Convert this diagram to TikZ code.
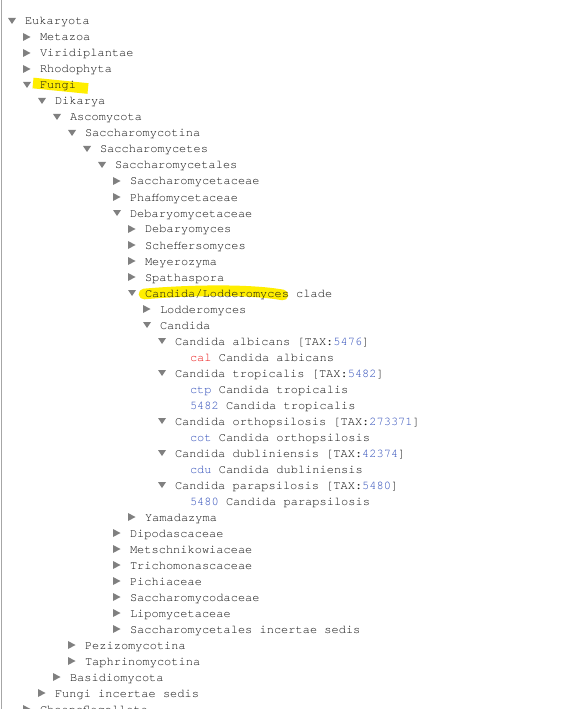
\documentclass[tikz,border=0pt]{standalone}
\usepackage{fontspec}
\setmonofont{TeX Gyre Cursor}
\definecolor{taxblue}{RGB}{45,75,185}
\definecolor{calred}{RGB}{235,20,20}
\definecolor{trigray}{RGB}{128,128,128}
\definecolor{hlyellow}{RGB}{255,238,0}
\definecolor{txt}{RGB}{20,20,20}
\newcommand{\tblu}[1]{\textcolor{taxblue}{#1}}
\newcommand{\tredd}[1]{\textcolor{calred}{#1}}
\tikzset{
  lbl/.style={anchor=base west, inner sep=0pt, outer sep=0pt, text=txt,
              font=\ttfamily\fontsize{9}{10}\selectfont},
  tri/.style={fill=trigray, draw=none},
  hilite/.style={draw=hlyellow, line width=8pt},
  frameline/.style={draw=black!35, line width=0.75pt}
}
\newcommand{\trow}[4]{%
  \pgfmathsetmacro\ty{21+16*#1}%
  \pgfmathsetmacro\tx{12+15*#2}%
  \if d#3\fill[tri] (\tx-4,\ty-3) -- (\tx+4,\ty-3) -- (\tx,\ty+3) -- cycle;\fi
  \if r#3\fill[tri] (\tx-4,\ty-4) -- (\tx+3.5,\ty) -- (\tx-4,\ty+4) -- cycle;\fi
  \node[lbl] (row#1) at (\tx+13,\ty+4) {#4};%
}
\begin{document}
\begin{tikzpicture}[x=0.75pt,y=-0.75pt]
\useasboundingbox (0,0) rectangle (560,709);
\clip (0,0) rectangle (560,709);
\fill[white] (0,0) rectangle (560,709);
% highlights
\draw[hilite, line cap=butt] (33,83) -- (88,88.5);
\draw[hilite, line cap=round] (144,294) .. controls (190,290) and (250,289) .. (283,295);
% left frame line
\draw[frameline] (1.5,0) coordinate (ftop) -- (1.5,709) coordinate (fbot);
% rows
\trow{0}{0}{d}{Eukaryota}
\trow{1}{1}{r}{Metazoa}
\trow{2}{1}{r}{Viridiplantae}
\trow{3}{1}{r}{Rhodophyta}
\trow{4}{1}{d}{Fungi}
\trow{5}{2}{d}{Dikarya}
\trow{6}{3}{d}{Ascomycota}
\trow{7}{4}{d}{Saccharomycotina}
\trow{8}{5}{d}{Saccharomycetes}
\trow{9}{6}{d}{Saccharomycetales}
\trow{10}{7}{r}{Saccharomycetaceae}
\trow{11}{7}{r}{Phaffomycetaceae}
\trow{12}{7}{d}{Debaryomycetaceae}
\trow{13}{8}{r}{Debaryomyces}
\trow{14}{8}{r}{Scheffersomyces}
\trow{15}{8}{r}{Meyerozyma}
\trow{16}{8}{r}{Spathaspora}
\trow{17}{8}{d}{Candida/Lodderomyces clade}
\trow{18}{9}{r}{Lodderomyces}
\trow{19}{9}{d}{Candida}
\trow{20}{10}{d}{Candida albicans [TAX:\tblu{5476}]}
\trow{21}{11}{n}{\tredd{cal} Candida albicans}
\trow{22}{10}{d}{Candida tropicalis [TAX:\tblu{5482}]}
\trow{23}{11}{n}{\tblu{ctp} Candida tropicalis}
\trow{24}{11}{n}{\tblu{5482} Candida tropicalis}
\trow{25}{10}{d}{Candida orthopsilosis [TAX:\tblu{273371}]}
\trow{26}{11}{n}{\tblu{cot} Candida orthopsilosis}
\trow{27}{10}{d}{Candida dubliniensis [TAX:\tblu{42374}]}
\trow{28}{11}{n}{\tblu{cdu} Candida dubliniensis}
\trow{29}{10}{d}{Candida parapsilosis [TAX:\tblu{5480}]}
\trow{30}{11}{n}{\tblu{5480} Candida parapsilosis}
\trow{31}{8}{r}{Yamadazyma}
\trow{32}{7}{r}{Dipodascaceae}
\trow{33}{7}{r}{Metschnikowiaceae}
\trow{34}{7}{r}{Trichomonascaceae}
\trow{35}{7}{r}{Pichiaceae}
\trow{36}{7}{r}{Saccharomycodaceae}
\trow{37}{7}{r}{Lipomycetaceae}
\trow{38}{7}{r}{Saccharomycetales incertae sedis}
\trow{39}{4}{r}{Pezizomycotina}
\trow{40}{4}{r}{Taphrinomycotina}
\trow{41}{3}{r}{Basidiomycota}
\trow{42}{2}{r}{Fungi incertae sedis}
\trow{43}{1}{r}{Choanoflagellata}
\end{tikzpicture}
\end{document}
